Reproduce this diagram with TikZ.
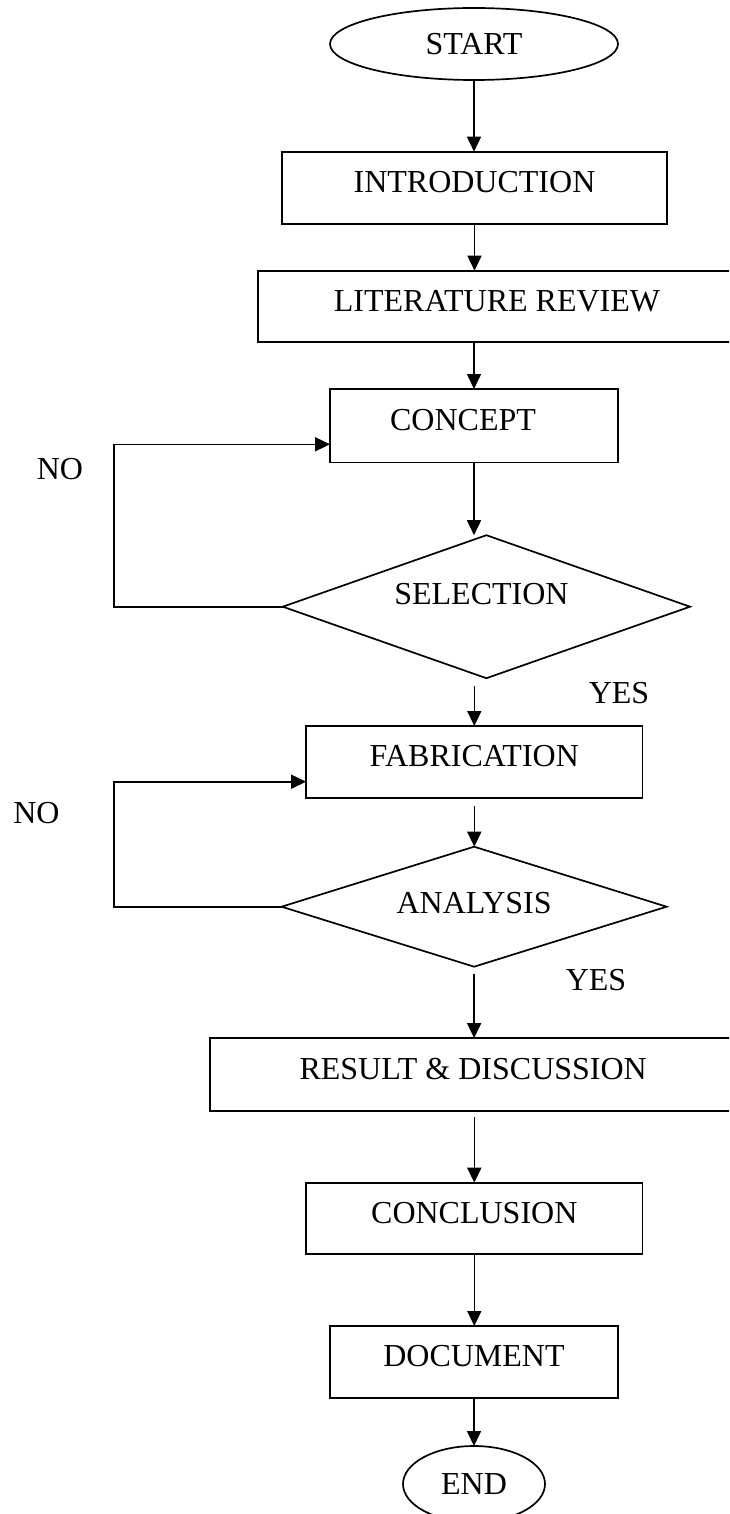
\documentclass[tikz,border=0pt]{standalone}
\usepackage{fontspec}
\setmainfont{Liberation Serif}
\usetikzlibrary{shapes.geometric,arrows.meta}
\newcommand{\flowfont}{\fontsize{16pt}{19pt}\selectfont}
\begin{document}
\begin{tikzpicture}[x=0.5pt,y=-0.5pt,
  every node/.style={font=\flowfont, outer sep=0pt},
  box/.style={draw, rectangle, line width=0.85pt, inner sep=0pt, text height=10.6pt, text depth=6pt},
  term/.style={draw, ellipse, line width=0.85pt, inner sep=0pt, text height=10.6pt, text depth=0pt},
  decision/.style={draw, diamond, line width=0.85pt, inner sep=0pt},
  lbl/.style={inner sep=0pt, anchor=base},
  arr/.style={-{Triangle[length=7.5pt,width=7pt]}, line width=0.8pt}]
\useasboundingbox (0,0) rectangle (729,1514);
\clip (0,0) rectangle (729,1514);

\node[term, minimum width=144pt, minimum height=36pt] (start) at (474,44) {START};
\node[box, minimum width=192.5pt, minimum height=36.2pt] (intro) at (474.5,187.9) {INTRODUCTION};
\node[box, minimum width=239pt, minimum height=35.8pt] (lit) at (497,306.5) {LITERATURE REVIEW};
\node[box, minimum width=144pt, minimum height=36.7pt] (concept) at (474,425.7) {CONCEPT\hspace*{11pt}};
\node[decision, minimum width=203.6pt, minimum height=71.5pt, aspect=2.85, text height=10.6pt, text depth=12.7pt] (sel) at (486.4,606.7) {SELECTION\hspace*{5pt}};
\node[box, minimum width=168.2pt, minimum height=36pt] (fab) at (474.3,762) {FABRICATION};
\node[decision, minimum width=192.5pt, minimum height=60pt, aspect=3.2, text height=10.6pt, text depth=4pt] (ana) at (474.1,906.7) {ANALYSIS};
\node[box, minimum width=263.4pt, minimum height=36.3pt] (res) at (473.2,1074.4) {RESULT \& DISCUSSION};
\node[box, minimum width=168.2pt, minimum height=35.8pt] (concl) at (474.3,1218.5) {CONCLUSION};
\node[box, minimum width=144pt, minimum height=36pt] (doc) at (474,1362) {DOCUMENT};
\node[term, minimum width=71pt, minimum height=38pt] (fin) at (474,1484) {END};

\node[lbl] (no1) at (60,479.3) {NO};
\node[lbl] (yes1) at (619,703.3) {YES};
\node[lbl] (no2) at (36.5,823.3) {NO};
\node[lbl] (yes2) at (596,990) {YES};

\draw[arr] (start.south) -- (start.south |- intro.north);
\draw[arr] (intro.south) -- (intro.south |- lit.north);
\draw[arr] (lit.south -| concept.north) -- (concept.north);
\draw[arr] (concept.south) -- (concept.south |- sel.north);
\draw[arr, shorten <=3.8pt] (sel.south -| fab.north) -- (fab.north);
\draw[arr, shorten <=3.8pt] (fab.south) -- (fab.south |- ana.north);
\draw[arr, shorten <=3.6pt] (ana.south) -- (ana.south |- res.north);
\draw[arr, shorten <=3.2pt] (res.south -| concl.north) -- (concl.north);
\draw[arr] (concl.south) -- (concl.south |- doc.north);
\draw[arr] (doc.south) -- (fin.north);

\coordinate (l1) at (114,444.3);
\draw[arr] (sel.west) -| (l1) -- (l1 -| concept.west);
\coordinate (l2) at (114,781.7);
\draw[arr] (ana.west) -| (l2) -- (l2 -| fab.west);
\end{tikzpicture}
\end{document}
